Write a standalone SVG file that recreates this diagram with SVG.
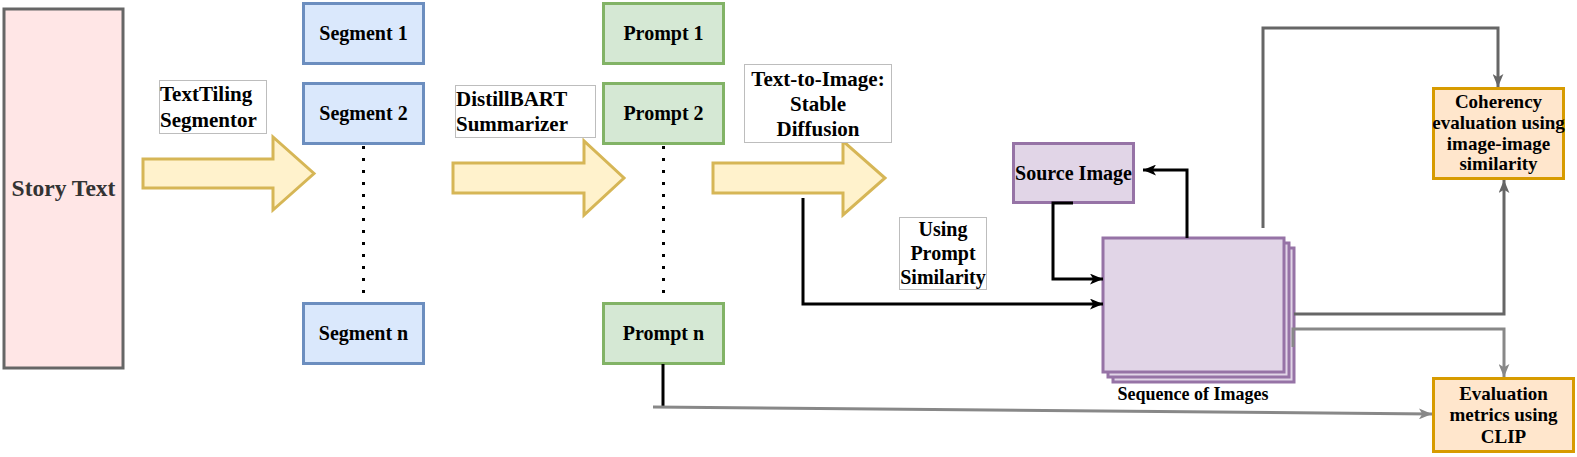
<svg xmlns="http://www.w3.org/2000/svg" width="1577" height="457" viewBox="0 0 1577 457">
<style>
text{font-family:"Liberation Serif","Times New Roman",serif;font-weight:bold;fill:#000;text-anchor:middle}
.seg{fill:#dae8fc;stroke:#6c8ebf;stroke-width:3}
.pr{fill:#d5e8d4;stroke:#82b366;stroke-width:3}
.pu{fill:#e1d5e7;stroke:#9673a6;stroke-width:3}
.or{fill:#ffe6cc;stroke:#d79b00;stroke-width:3}
.lbl{fill:#fff;stroke:#bdbdbd;stroke-width:1}
.big{fill:#fff2cc;stroke:#d6b656;stroke-width:3}
.dot{stroke:#000;stroke-width:3;stroke-dasharray:3 9;fill:none}
.blk{stroke:#000;stroke-width:3;fill:none}
.g1{stroke:#666;stroke-width:3;fill:none}
.g2{stroke:#888;stroke-width:3;fill:none}
.t20{font-size:20px}
.t21{font-size:21px;text-anchor:start}
.t18{font-size:19px}
</style>
<defs>
<marker id="ab" viewBox="0 0 12 10" refX="12" refY="5" markerWidth="13" markerHeight="11" markerUnits="userSpaceOnUse" orient="auto"><path d="M0,0 L12,5 L0,10 L3,5 z" fill="#000"/></marker>
<marker id="ag1" viewBox="0 0 12 10" refX="12" refY="5" markerWidth="13" markerHeight="11" markerUnits="userSpaceOnUse" orient="auto"><path d="M0,0 L12,5 L0,10 L3,5 z" fill="#666"/></marker>
<marker id="ag2" viewBox="0 0 12 10" refX="12" refY="5" markerWidth="13" markerHeight="11" markerUnits="userSpaceOnUse" orient="auto"><path d="M0,0 L12,5 L0,10 L3,5 z" fill="#888"/></marker>
</defs>

<g id="story">
<rect x="4" y="9" width="119" height="359" fill="#ffe6e6" stroke="#666" stroke-width="3"/>
<text x="63.5" y="196" style="font-size:23.5px;fill:#333">Story Text</text>
</g>

<g id="arrow-segmentor">
<path class="big" d="M143,159 H273 V137 L314,173.5 L273,210 V188 H143 Z"/>
</g>
<g id="label-texttiling">
<rect class="lbl" x="159.5" y="80.5" width="107" height="53"/>
<text class="t21" x="160" y="101">TextTiling</text>
<text class="t21" x="160" y="127">Segmentor</text>
</g>

<g id="segment1"><rect class="seg" x="303.5" y="3.5" width="120" height="60"/><text class="t20" x="363.5" y="40">Segment 1</text></g>
<g id="segment2"><rect class="seg" x="303.5" y="83.5" width="120" height="60"/><text class="t20" x="363.5" y="120">Segment 2</text></g>
<g id="segmentn"><rect class="seg" x="303.5" y="303.5" width="120" height="60"/><text class="t20" x="363.5" y="340">Segment n</text></g>

<g id="arrow-summarizer">
<path class="big" d="M453,163 H584 V141 L624,178 L584,215 V193 H453 Z"/>
</g>
<g id="label-distillbart">
<rect class="lbl" x="455.5" y="85.5" width="140" height="52"/>
<text class="t21" x="456" y="106">DistillBART</text>
<text class="t21" x="456" y="131">Summarizer</text>
</g>

<g id="prompt1"><rect class="pr" x="603.5" y="3.5" width="120" height="60"/><text class="t20" x="663.5" y="40">Prompt 1</text></g>
<g id="prompt2"><rect class="pr" x="603.5" y="83.5" width="120" height="60"/><text class="t20" x="663.5" y="120">Prompt 2</text></g>
<g id="promptn"><rect class="pr" x="603.5" y="303.5" width="120" height="60"/><text class="t20" x="663.5" y="340">Prompt n</text></g>

<g id="arrow-t2i">
<path class="big" d="M713,163 H843 V141 L885,178 L843,215 V193 H713 Z"/>
</g>
<g id="label-t2i">
<rect class="lbl" x="744.5" y="64.5" width="147" height="78"/>
<text x="818" y="86" style="font-size:21px">Text-to-Image:</text>
<text x="818" y="111" style="font-size:21px">Stable</text>
<text x="818" y="136" style="font-size:21px">Diffusion</text>
</g>

<g id="label-similarity">
<rect class="lbl" x="899.5" y="217.5" width="87" height="72"/>
<text class="t20" x="943" y="236">Using</text>
<text class="t20" x="943" y="260">Prompt</text>
<text class="t20" x="943" y="284">Similarity</text>
</g>

<g id="source-image"><rect class="pu" x="1013.5" y="143.5" width="120" height="59"/><text class="t20" x="1073.5" y="180">Source Image</text></g>

<g id="sequence">
<rect class="pu" x="1113" y="248" width="181" height="134"/>
<rect class="pu" x="1108" y="243" width="181" height="134"/>
<rect class="pu" x="1103" y="238" width="181" height="134"/>
<text x="1193" y="400" style="font-size:18px">Sequence of Images</text>
</g>

<g id="coherency"><rect class="or" x="1433.5" y="88.5" width="130" height="90"/>
<text class="t18" x="1498.5" y="108">Coherency</text>
<text class="t18" x="1498.5" y="129">evaluation using</text>
<text class="t18" x="1498.5" y="150">image-image</text>
<text class="t18" x="1498.5" y="170">similarity</text>
</g>

<g id="evaluation"><rect class="or" x="1433.5" y="378.5" width="140" height="73"/>
<text class="t18" x="1503.5" y="400">Evaluation</text>
<text class="t18" x="1503.5" y="421">metrics using</text>
<text class="t18" x="1503.5" y="443">CLIP</text>
</g>

<g id="connectors">
<line class="dot" x1="363.5" y1="146" x2="363.5" y2="302"/>
<line class="dot" x1="663.5" y1="146" x2="663.5" y2="302"/>
<path class="blk" d="M803,198 V304 H1103" marker-end="url(#ab)"/>
<path class="blk" d="M1073,203 H1053 V279 H1103" marker-end="url(#ab)"/>
<path class="blk" d="M1187,238 V170 H1143" marker-end="url(#ab)"/>
<path class="g1" d="M1263,228 V28 H1498 V87" marker-end="url(#ag1)"/>
<path class="g1" d="M1294,314 H1504 V180" marker-end="url(#ag1)"/>
<path class="g2" d="M1293,347 V329 H1504 V377" marker-end="url(#ag2)"/>
<path class="blk" d="M663,364 V407"/>
<path class="g2" d="M653,407 L1432,414" marker-end="url(#ag2)"/>
</g>
</svg>
